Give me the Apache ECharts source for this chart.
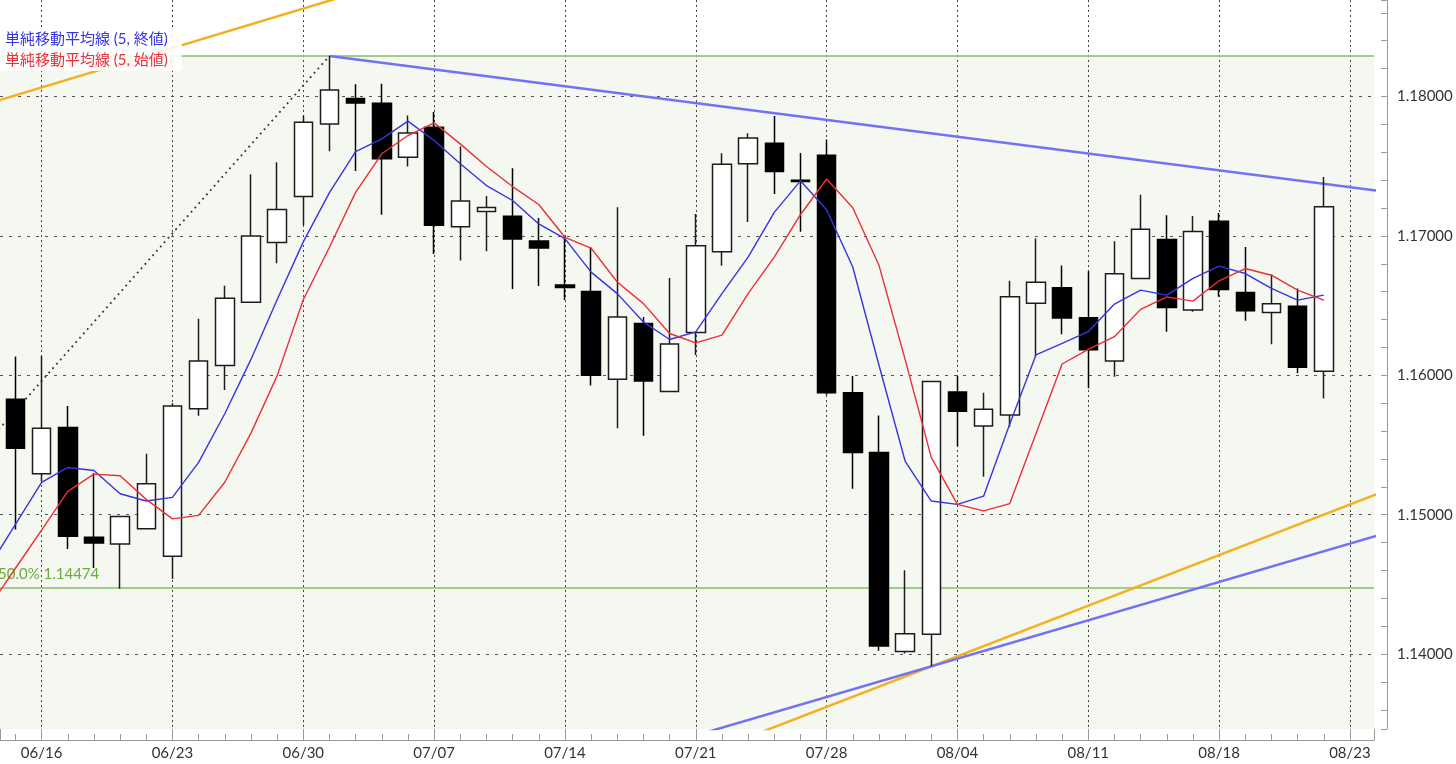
<!DOCTYPE html>
<html>
<head>
<meta charset="utf-8">
<script src="https://cdn.jsdelivr.net/npm/echarts@6/dist/echarts.min.js"></script>
<style>
html,body{margin:0;padding:0;background:#ffffff;}
#chart{width:1456px;height:764px;}
</style>
</head>
<body>
<div id="chart"></div>
<script>
// ---- trading-day categories (index 0 = 06/16, first entry is index -2) ----
const firstIndex = -2;
const dates = ['06/12','06/13',
  '06/16','06/17','06/18','06/19','06/20',
  '06/23','06/24','06/25','06/26','06/27',
  '06/30','07/01','07/02','07/03','07/04',
  '07/07','07/08','07/09','07/10','07/11',
  '07/14','07/15','07/16','07/17','07/18',
  '07/21','07/22','07/23','07/24','07/25',
  '07/28','07/29','07/30','07/31','08/01',
  '08/04','08/05','08/06','08/07','08/08',
  '08/11','08/12','08/13','08/14','08/15',
  '08/18','08/19','08/20','08/21','08/22',
  '08/23'];

// ---- OHLC (one entry per trading day, 06/12 .. 08/22) ----
const opens  = [1.1491,1.15828,
  1.15294,1.15625,1.14838,1.14790,1.14900,
  1.14702,1.15760,1.16071,1.16524,1.16952,
  1.17282,1.17803,1.17985,1.17952,1.17565,
  1.17780,1.17065,1.17175,1.17141,1.16964,
  1.16648,1.16602,1.15971,1.16371,1.15883,
  1.16307,1.16886,1.17517,1.17664,1.17400,
  1.17578,1.15875,1.15446,1.14019,1.14143,
  1.15881,1.15637,1.15716,1.16516,1.16628,
  1.16413,1.16103,1.16695,1.16974,1.16468,
  1.17105,1.16594,1.16451,1.16496,1.16029];
const highs  = [1.1620,1.16134,
  1.16138,1.15780,1.15298,1.14993,1.15437,
  1.15800,1.16405,1.16643,1.17443,1.17529,
  1.17863,1.18291,1.18088,1.18091,1.17864,
  1.17888,1.17641,1.17287,1.17486,1.17129,
  1.17002,1.16919,1.17205,1.16419,1.16698,
  1.17157,1.17593,1.17736,1.17860,1.17594,
  1.17692,1.15995,1.15711,1.14602,1.15960,
  1.15995,1.15875,1.16678,1.16981,1.16788,
  1.16747,1.16962,1.17296,1.17148,1.17143,
  1.17165,1.16921,1.16723,1.16623,1.17422];
const lows   = [1.1488,1.14893,
  1.15239,1.14754,1.14618,1.14468,1.14893,
  1.14539,1.15710,1.15895,1.16520,1.16804,
  1.17078,1.17607,1.17465,1.17151,1.17498,
  1.16871,1.16823,1.16890,1.16620,1.16641,
  1.16541,1.15926,1.15621,1.15567,1.15880,
  1.16145,1.16786,1.17100,1.17300,1.17029,
  1.15860,1.15186,1.14024,1.14005,1.13912,
  1.15491,1.15273,1.15630,1.16134,1.16294,
  1.15907,1.15990,1.16690,1.16313,1.16456,
  1.16563,1.16391,1.16222,1.16014,1.15833];
const closes = [1.1585,1.15477,
  1.15621,1.14845,1.14797,1.14988,1.15222,
  1.15780,1.16102,1.16552,1.17000,1.17189,
  1.17815,1.18047,1.17953,1.17553,1.17739,
  1.17077,1.17251,1.17203,1.16978,1.16914,
  1.16629,1.16000,1.16419,1.15960,1.16224,
  1.16929,1.17514,1.17702,1.17462,1.17390,
  1.15875,1.15446,1.14058,1.14146,1.15955,
  1.15743,1.15756,1.16563,1.16668,1.16411,
  1.16184,1.16728,1.17048,1.16487,1.17031,
  1.16616,1.16463,1.16513,1.16057,1.17210];

// ---- 5-day simple moving averages ----
const smaClose = [1.1463,1.1493,
  1.15232,1.15339,1.15317,1.15150,1.15098,
  1.15124,1.15375,1.15724,1.16114,1.16542,
  1.16957,1.17310,1.17604,1.17696,1.17823,
  1.17684,1.17517,1.17361,1.17254,1.17086,
  1.16980,1.16740,1.16586,1.16383,1.16257,
  1.16312,1.16586,1.16848,1.17169,1.17395,
  1.17188,1.16777,1.16074,1.15385,1.15098,
  1.15074,1.15133,1.15650,1.16146,1.16229,
  1.16313,1.16511,1.16611,1.16575,1.16695,
  1.16783,1.16730,1.16623,1.16539,1.16575];
const smaOpen = [1.1434,1.14616,
  1.14890,1.15167,1.15291,1.15279,1.15110,
  1.14970,1.14995,1.15233,1.15585,1.15996,
  1.16542,1.16919,1.17312,1.17589,1.17720,
  1.17811,1.17660,1.17498,1.17354,1.17225,
  1.16990,1.16912,1.16669,1.16514,1.16300,
  1.16233,1.16288,1.16586,1.16848,1.17152,
  1.17408,1.17202,1.16790,1.16114,1.15411,
  1.15074,1.15027,1.15080,1.15580,1.16081,
  1.16186,1.16277,1.16473,1.16563,1.16532,
  1.16678,1.16766,1.16718,1.16611,1.16539];

// ---- drawn objects: [tradingIndex, price] anchor points ----
const fibAnchors    = [[-25, 1.10657], [11, 1.18291]];
const fibLevels     = [['100.0%', 1.18291], ['50.0%', 1.14474]];
const upperBlueLine = [[11, 1.18291], [51, 1.17326]];
const lowerBlueLine = [[25, 1.13417], [51, 1.14847]];
const lowerOrangeLine = [[26, 1.13331], [51, 1.15146]];
const upperOrangeLine = [[-2, 1.17952], [12, 1.18744]];

const seriesNames = ['単純移動平均線 (5, 終値)', '単純移動平均線 (5, 始値)'];

// view window
const xMin = -1.59, xMax = 50.92;
const yMin = 1.134627, yMax = 1.186923;

// ---- build library data ----
const candleData = opens.map((o, k) => [k + firstIndex, o, closes[k], lows[k], highs[k]]);
const smaCloseData = smaClose.map((v, k) => [k + firstIndex, v]);
const smaOpenData = smaOpen.map((v, k) => [k + firstIndex, v]);

const FONT = "Lato, 'Noto Sans CJK JP', sans-serif";
const AXIS_GRAY = '#9a9a9a';
const BLUE_MA = '#3535df', RED_MA = '#ea2f37';
const TREND_BLUE = '#7272f3', TREND_ORANGE = '#f4b020';
const FIB_GREEN = '#86bf66';

const chart = echarts.init(document.getElementById('chart'), null, {renderer: 'canvas'});

const lineSeries = (name, data, color, width, z, type) => ({
  type: 'line', name, data, symbol: 'none', silent: true, clip: true, z,
  lineStyle: {color, width, type: type || 'solid'},
  itemStyle: {color},
  emphasis: {disabled: true}
});

const option = {
  animation: false,
  backgroundColor: '#ffffff',
  textStyle: {fontFamily: FONT},
  grid: {left: 0, right: 82, top: 0, bottom: 35, containLabel: false},
  legend: {
    show: true, left: 0, top: 28, orient: 'vertical',
    icon: 'none', itemWidth: 0, itemHeight: 0, itemGap: 5,
    padding: [3, 14, 3, 0],
    backgroundColor: 'rgba(255,255,255,0.88)',
    selectedMode: false,
    textStyle: {fontSize: 15, fontFamily: FONT, lineHeight: 16},
    data: [
      {name: seriesNames[0], textStyle: {color: BLUE_MA}},
      {name: seriesNames[1], textStyle: {color: RED_MA}}
    ]
  },
  xAxis: {
    type: 'value', min: xMin, max: xMax, z: 1.5,
    splitNumber: 10, minInterval: 5, maxInterval: 5,
    offset: 11,
    axisLine: {show: true, onZero: false, lineStyle: {color: AXIS_GRAY, width: 1}},
    axisTick: {show: true, inside: true, length: 11, lineStyle: {color: AXIS_GRAY}},
    minorTick: {show: true, splitNumber: 5, length: 6, lineStyle: {color: AXIS_GRAY}},
    axisLabel: {
      show: true, margin: 6, fontSize: 15, color: '#333', fontFamily: FONT,
      showMinLabel: false, showMaxLabel: false,
      formatter: v => (Math.abs(v - Math.round(v)) < 1e-6 && Math.round(v) % 5 === 0) ? (dates[Math.round(v) - firstIndex] || '') : ''
    },
    splitLine: {show: true, showMinLine: false, showMaxLine: false,
      lineStyle: {color: '#444', width: 1, type: [2, 3]}},
    minorSplitLine: {show: false}
  },
  yAxis: {
    type: 'value', position: 'right', min: yMin, max: yMax, scale: true, z: 1.5,
    splitNumber: 5, minInterval: 0.01, maxInterval: 0.01,
    offset: 13,
    axisLine: {show: true, onZero: false, lineStyle: {color: AXIS_GRAY, width: 1}},
    axisTick: {show: true, inside: true, length: 6, lineStyle: {color: AXIS_GRAY}},
    minorTick: {show: true, splitNumber: 5, length: 6, lineStyle: {color: AXIS_GRAY}},
    axisLabel: {
      show: true, margin: 10, fontSize: 15, color: '#333', fontFamily: FONT,
      showMinLabel: false, showMaxLabel: false,
      formatter: v => v.toFixed(5)
    },
    splitLine: {show: true, showMinLine: false, showMaxLine: false,
      lineStyle: {color: '#555', width: 1, type: [3, 6]}}
  },
  series: [
    // fib zone shading (behind the grid lines)
    {
      type: 'line', name: 'fibZone', data: [], z: 0, silent: true,
      markArea: {
        silent: true, z: 0,
        itemStyle: {color: '#f5f7f1'},
        data: [[{yAxis: fibLevels[0][1]}, {yAxis: yMin}]]
      }
    },
    // fib anchor dotted line + level lines
    Object.assign(lineSeries('fibLine', fibAnchors, '#333333', 1.8, 2, [1.8, 4]), {
      markLine: {
        silent: true, symbol: ['none', 'none'], precision: 5, z: 2,
        lineStyle: {color: FIB_GREEN, width: 1.5, type: 'solid'},
        data: fibLevels.map((lv, k) => ({
          yAxis: lv[1],
          label: k === 0 ? {show: false} : {
            show: true, position: 'insideStartTop', distance: [-2, 6],
            formatter: lv[0] + ' ' + lv[1].toFixed(5),
            color: '#6aab3f', fontSize: 15, fontFamily: FONT
          }
        }))
      }
    }),
    lineSeries('upperOrange', upperOrangeLine, TREND_ORANGE, 2.5, 2),
    lineSeries('lowerOrange', lowerOrangeLine, TREND_ORANGE, 2.5, 2),
    lineSeries('upperBlue', upperBlueLine, TREND_BLUE, 2.5, 2),
    lineSeries('lowerBlue', lowerBlueLine, TREND_BLUE, 2.5, 2),
    {
      type: 'candlestick', name: 'EURUSD', data: candleData, z: 3,
      barWidth: 19, clip: true, silent: true,
      itemStyle: {color: '#ffffff', color0: '#000000', borderColor: '#1c1c1c', borderColor0: '#000000', borderWidth: 1.5},
      emphasis: {disabled: true}
    },
    lineSeries(seriesNames[0], smaCloseData, BLUE_MA, 1.4, 5),
    lineSeries(seriesNames[1], smaOpenData, RED_MA, 1.4, 5)
  ]
};
chart.setOption(option);
</script>
</body>
</html>
